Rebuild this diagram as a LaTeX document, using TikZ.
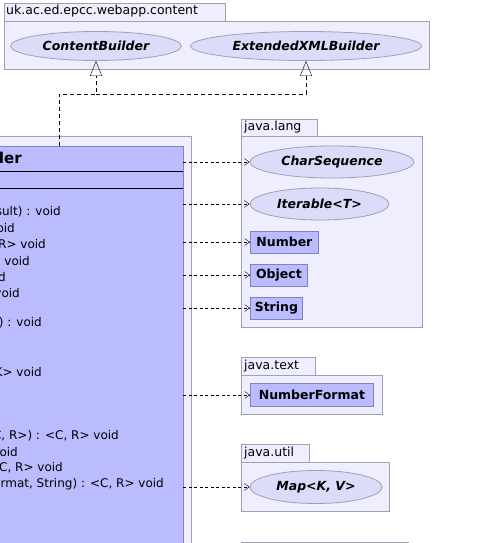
\documentclass[tikz,border=0pt]{standalone}
\usepackage{fontspec}
\setmainfont{DejaVu Sans}
\usepackage{tikz}
\usepackage{xcolor}
\usetikzlibrary{shapes.geometric,arrows.meta}

\definecolor{pkgfill}{RGB}{238,238,254}
\definecolor{pkgline}{RGB}{160,160,178}
\definecolor{ifacefill}{RGB}{220,220,250}
\definecolor{clsfill}{RGB}{187,187,255}
\definecolor{clsline}{RGB}{130,130,190}

\begin{document}
\begin{tikzpicture}[x=1pt, y=-1pt,
    every node/.style={font=\fontsize{12.5}{14}\selectfont, inner sep=0pt},
    pkg/.style={draw=pkgline, fill=pkgfill, line width=0.8pt},
    iface/.style={ellipse, draw=pkgline, fill=ifacefill, line width=0.8pt, font=\fontsize{12.5}{14}\selectfont\bfseries\itshape},
    clsbox/.style={rectangle, draw=clsline, fill=clsfill, line width=0.8pt, minimum height=22pt, anchor=west, font=\fontsize{12.5}{14}\selectfont\bfseries},
    method/.style={anchor=east, font=\fontsize{12}{14}\selectfont},
    dep/.style={dash pattern=on 3pt off 2.5pt, -{Straight Barb[length=5pt, width=7pt]}},
    realize/.style={dash pattern=on 4pt off 3pt, -{Triangle[open, length=15pt, width=12pt]}}]
    \useasboundingbox (0,0) rectangle (494,543);

    % uk.ac.ed.epcc.webapp.content
    \draw[pkg] (4,3) rectangle (225,21);
    \draw[pkg] (4,21) rectangle (429,69);
    \node[anchor=west] (contentlbl) at (6,11) {uk.ac.ed.epcc.webapp.content};
    \node[iface, minimum width=171pt, minimum height=29pt] (contentbuilder) at (96,46) {ContentBuilder};
    \node[iface, minimum width=231pt, minimum height=29pt] (extbuilder) at (306,46) {ExtendedXMLBuilder};

    % the class
    \draw[pkg] (-10,136) rectangle (191,600);
    \node[rectangle, draw=clsline, fill=clsfill, line width=0.8pt, minimum width=193pt, minimum height=454pt] (builder) at (86.5,373) {};
    \draw[line width=0.8pt] (builder.west |- 0,171) -- (builder.east |- 0,171);
    \draw[line width=0.8pt] (builder.west |- 0,188) -- (builder.east |- 0,188);
    \node[anchor=east, font=\fontsize{15}{17}\selectfont\bfseries] (classname) at (22,158) {der};
    \foreach \y/\x/\txt in {212/61/{sult) : void}, 228/15/{oid}, 244/46/{R> void}, 261/30/{- void},
                            277/6/{d}, 293/20/{void}, 323/42/{) : void}, 372/42/{K> void},
                            436/119/{C, R>) : <C, R> void}, 452/18/{oid}, 468/63/{C, R> void},
                            484/164/{rmat, String) : <C, R> void}} {
        \node[method] at (\x,\y) {\txt};
    }

    % java.lang
    \draw[pkg] (241,119) rectangle (317,136);
    \draw[pkg] (241,136) rectangle (422,327);
    \node[anchor=west] (langlbl) at (244,127) {java.lang};
    \node[iface, minimum width=164pt, minimum height=32pt] (charseq) at (332,162) {CharSequence};
    \node[iface, minimum width=139pt, minimum height=32pt] (iterable) at (319.5,204) {Iterable<T>};
    \node[clsbox, minimum width=68pt] (number) at (250,242) {Number};
    \node[clsbox, minimum width=57pt] (object) at (250,275) {Object};
    \node[clsbox, minimum width=52pt] (string) at (250,308) {String};

    % java.text
    \draw[pkg] (241,357) rectangle (315,375);
    \draw[pkg] (241,375) rectangle (382,414);
    \node[anchor=west] (textlbl) at (244,366) {java.text};
    \node[clsbox, minimum width=123pt, minimum height=23pt] (numfmt) at (250,395) {NumberFormat};

    % java.util
    \draw[pkg] (241,444) rectangle (309,462);
    \draw[pkg] (241,462) rectangle (389,511);
    \node[anchor=west] (utillbl) at (244,453) {java.util};
    \node[iface, minimum width=132pt, minimum height=33pt] (map) at (316,487) {Map<K, V>};

    % next package
    \draw[pkg] (241,542) rectangle (408,560);

    % realizations
    \coordinate (split) at (59,94);
    \coordinate (joint) at (contentbuilder.south |- split);
    \draw[realize] (builder.north -| split) -- (split) -- (joint) -- (contentbuilder.south);
    \draw[realize] (joint) -| (extbuilder.south);

    % dependencies
    \foreach \target in {charseq, iterable, number, object, string, numfmt, map} {
        \draw[dep] (builder.east |- \target.west) -- (\target.west);
    }
\end{tikzpicture}
\end{document}
